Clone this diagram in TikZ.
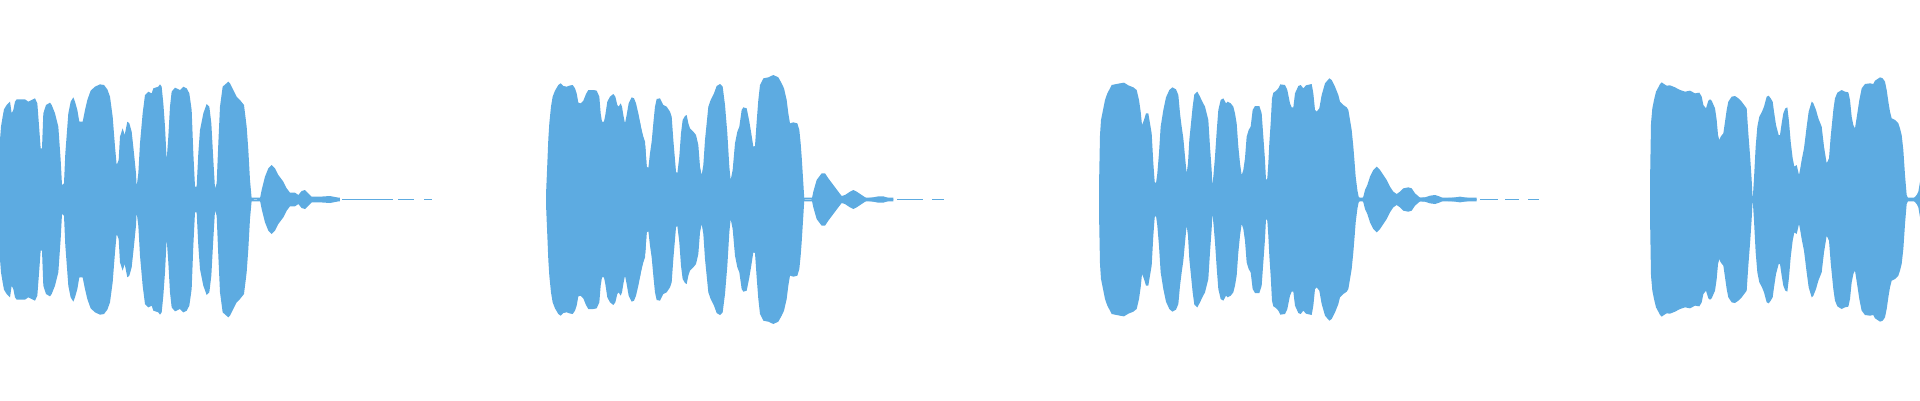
\documentclass[tikz,border=0pt]{standalone}
\definecolor{wv}{RGB}{93,171,225}
\begin{document}
\begin{tikzpicture}[x=1pt,y=-1pt,wav/.style={fill=wv}]
\useasboundingbox (0,0) rectangle (1920,400);
\foreach \s/\yo in {1/60,-1/339}{
% segment 1
\begin{scope}[shift={(0,\yo)},xscale=1/3,yscale=\s/3]
\fill[wav] (0,424) -- (0,240)--(3,200)--(8,170)--(12,148)--(20,135)--(30,125)--(35,160)--(40,150)--(45,125)--(50,118)--(75,118)--(85,125)--(105,115)--(112,130)--(118,210)--(122,265)--(126,265)--(130,160)--(138,135)--(150,128)--(155,135)--(165,160)--(175,200)--(182,300)--(186,375)--(192,370)--(196,280)--(205,160)--(212,125)--(220,112)--(225,125)--(232,150)--(238,185)--(248,185)--(255,150)--(262,120)--(272,92)--(285,80)--(300,73)--(312,75)--(322,88)--(330,110)--(338,170)--(345,260)--(350,315)--(356,300)--(360,230)--(368,205)--(374,225)--(382,185)--(388,190)--(395,215)--(402,280)--(408,340)--(410,380)--(415,340)--(420,250)--(428,160)--(435,105)--(445,95)--(455,100)--(460,85)--(475,80)--(480,73)--(485,80)--(490,130)--(495,200)--(500,300)--(505,230)--(510,140)--(515,95)--(525,83)--(540,90)--(550,80)--(560,85)--(568,100)--(575,150)--(580,280)--(585,380)--(590,380)--(595,280)--(600,210)--(610,160)--(620,132)--(628,140)--(634,190)--(640,300)--(645,385)--(650,370)--(655,250)--(660,140)--(668,80)--(685,65)--(690,70)--(700,90)--(710,110)--(720,120)--(732,135)--(740,200)--(745,270)--(750,360)--(755,415)--(762,419)--(770,419)--(780,415)--(785,390)--(795,350)--(805,325)--(815,315)--(825,325)--(835,345)--(850,365)--(860,385)--(870,398)--(885,398)--(895,405)--(905,393)--(915,390)--(925,400)--(935,410)--(960,410)--(990,408)--(1010,412)--(1020,416)--(1020,424)--cycle;
\end{scope}
% segment 2a
\begin{scope}[shift={(330,\yo)},xscale=1/3,yscale=\s/3]
\fill[wav] (648,424)--(648,405)--(652,310)--(655,237)--(658,190)--(663,140)--(668,110)--(675,92)--(685,75)--(692,70)--(700,78)--(710,80)--(718,77)--(728,75)--(735,85)--(740,100)--(745,128)--(752,130)--(760,122)--(768,102)--(775,90)--(790,90)--(800,92)--(808,110)--(812,160)--(816,185)--(822,185)--(826,165)--(832,125)--(840,110)--(850,102)--(856,110)--(862,135)--(866,140)--(872,130)--(876,140)--(880,165)--(885,190)--(890,165)--(896,130)--(905,112)--(912,115)--(918,130)--(925,160)--(930,185)--(935,215)--(940,235)--(946,260)--(950,320)--(955,325)--(960,312)--(960,424)--cycle;
\end{scope}
% segment 2b
\begin{scope}[shift={(640,\yo)},xscale=1/3,yscale=\s/3]
\fill[wav] (0,424)--(0,188)--(5,210)--(10,230)--(15,245)--(20,320)--(25,325)--(30,280)--(35,245)--(40,190)--(45,140)--(50,117)--(60,115)--(70,135)--(80,140)--(90,155)--(95,170)--(100,240)--(108,335)--(112,340)--(118,290)--(123,220)--(128,180)--(135,168)--(140,165)--(145,190)--(150,205)--(160,215)--(168,225)--(175,255)--(180,320)--(185,345)--(190,315)--(195,240)--(205,140)--(212,120)--(222,100)--(230,78)--(240,72)--(248,80)--(255,135)--(262,220)--(268,320)--(272,360)--(278,330)--(285,250)--(292,215)--(298,200)--(305,150)--(310,142)--(320,145)--(328,185)--(333,215)--(340,260)--(345,258)--(350,185)--(355,120)--(360,75)--(370,55)--(385,52)--(400,45)--(415,52)--(425,70)--(432,85)--(440,120)--(445,160)--(450,190)--(460,187)--(472,190)--(478,210)--(482,250)--(485,290)--(490,370)--(493,419)--(515,419)--(520,395)--(530,360)--(545,340)--(555,340)--(565,355)--(580,375)--(595,395)--(605,408)--(615,405)--(630,395)--(640,390)--(650,395)--(665,405)--(680,415)--(700,412)--(715,409)--(730,409)--(745,414)--(760,418)--(760,424)--cycle;
\end{scope}
% segment 3a
\begin{scope}[shift={(960,\yo)},xscale=1/3,yscale=\s/3]
\fill[wav] (417,424)--(417,380)--(420,225)--(423,180)--(428,155)--(435,120)--(442,100)--(450,85)--(455,75)--(470,72)--(480,70)--(492,68)--(505,76)--(520,82)--(530,90)--(537,120)--(542,155)--(546,195)--(552,180)--(558,160)--(565,160)--(570,190)--(575,220)--(580,310)--(584,365)--(588,370)--(592,340)--(597,280)--(602,200)--(610,150)--(618,112)--(628,90)--(637,82)--(648,88)--(655,105)--(660,160)--(665,200)--(670,235)--(676,300)--(680,340)--(684,310)--(688,240)--(692,200)--(698,140)--(703,103)--(712,95)--(720,110)--(727,125)--(735,140)--(745,180)--(750,260)--(755,330)--(757,375)--(760,350)--(765,290)--(770,215)--(775,150)--(782,120)--(790,115)--(798,130)--(803,125)--(812,130)--(820,140)--(825,160)--(830,190)--(835,260)--(840,310)--(845,345)--(850,330)--(855,295)--(860,230)--(866,210)--(872,200)--(878,150)--(885,138)--(898,138)--(905,160)--(910,230)--(915,300)--(918,360)--(922,355)--(925,310)--(928,250)--(932,190)--(936,115)--(940,98)--(948,93)--(955,85)--(960,75)--(960,424)--cycle;
\end{scope}
% segment 3b
\begin{scope}[shift={(1280,\yo)},xscale=1/3,yscale=\s/3]
\fill[wav] (0,424)--(0,73)--(15,75)--(22,90)--(30,130)--(35,142)--(40,142)--(45,100)--(55,78)--(62,75)--(70,85)--(78,76)--(95,72)--(100,100)--(105,150)--(110,155)--(118,145)--(125,105)--(135,70)--(148,55)--(155,60)--(165,80)--(175,105)--(180,125)--(190,135)--(200,142)--(205,150)--(210,180)--(215,210)--(220,260)--(224,310)--(227,350)--(232,390)--(236,410)--(240,415)--(245,418)--(250,410)--(255,390)--(262,375)--(270,350)--(280,330)--(290,320)--(300,330)--(310,345)--(320,360)--(330,380)--(340,395)--(350,402)--(360,395)--(370,385)--(385,382)--(395,385)--(405,400)--(420,413)--(435,412)--(450,407)--(465,405)--(480,410)--(490,415)--(520,413)--(540,410)--(565,414)--(590,417)--(590,424)--cycle;
\end{scope}
% segment 4
\begin{scope}[shift={(1600,\yo)},xscale=1/3,yscale=\s/3]
\fill[wav] (150,424)--(150,370)--(153,190)--(157,145)--(162,120)--(168,95)--(175,82)--(180,72)--(185,67)--(192,72)--(200,77)--(210,76)--(225,82)--(240,90)--(255,95)--(270,92)--(285,100)--(298,98)--(305,110)--(310,135)--(318,145)--(325,122)--(330,118)--(335,122)--(345,145)--(350,180)--(354,225)--(358,240)--(362,230)--(370,220)--(375,185)--(380,150)--(385,125)--(395,110)--(405,108)--(415,115)--(425,125)--(440,145)--(445,220)--(450,285)--(455,360)--(458,419)--(462,355)--(467,260)--(472,200)--(478,170)--(486,155)--(492,140)--(500,110)--(506,107)--(512,115)--(518,125)--(522,155)--(528,195)--(536,225)--(540,225)--(545,190)--(550,160)--(556,145)--(562,142)--(567,185)--(572,245)--(578,295)--(583,320)--(590,315)--(597,345)--(600,330)--(605,300)--(612,265)--(620,200)--(626,155)--(635,125)--(640,130)--(648,150)--(655,175)--(665,200)--(672,260)--(680,310)--(687,295)--(692,230)--(700,150)--(705,115)--(712,98)--(725,90)--(735,95)--(745,97)--(750,120)--(755,170)--(760,195)--(765,205)--(772,160)--(778,120)--(785,85)--(795,72)--(810,70)--(820,72)--(825,62)--(840,52)--(848,55)--(855,65)--(860,90)--(865,125)--(870,155)--(875,175)--(885,180)--(895,190)--(900,205)--(905,225)--(910,270)--(915,345)--(920,405)--(925,416)--(940,416)--(950,405)--(955,395)--(960,365)--(960,424)--cycle;
\end{scope}
}
% thin tails
\fill[wav] (342,198.6) rectangle (393,200.4);
\fill[wav] (398,198.6) rectangle (414,200.4);
\fill[wav] (424,198.6) rectangle (432,200.4);
\fill[wav] (897,198.6) rectangle (923,200.4);
\fill[wav] (932,198.6) rectangle (944,200.4);
\fill[wav] (1480,198.6) rectangle (1498,200.4);
\fill[wav] (1505,198.6) rectangle (1519,200.4);
\fill[wav] (1528,198.6) rectangle (1539,200.4);
\end{tikzpicture}
\end{document}
